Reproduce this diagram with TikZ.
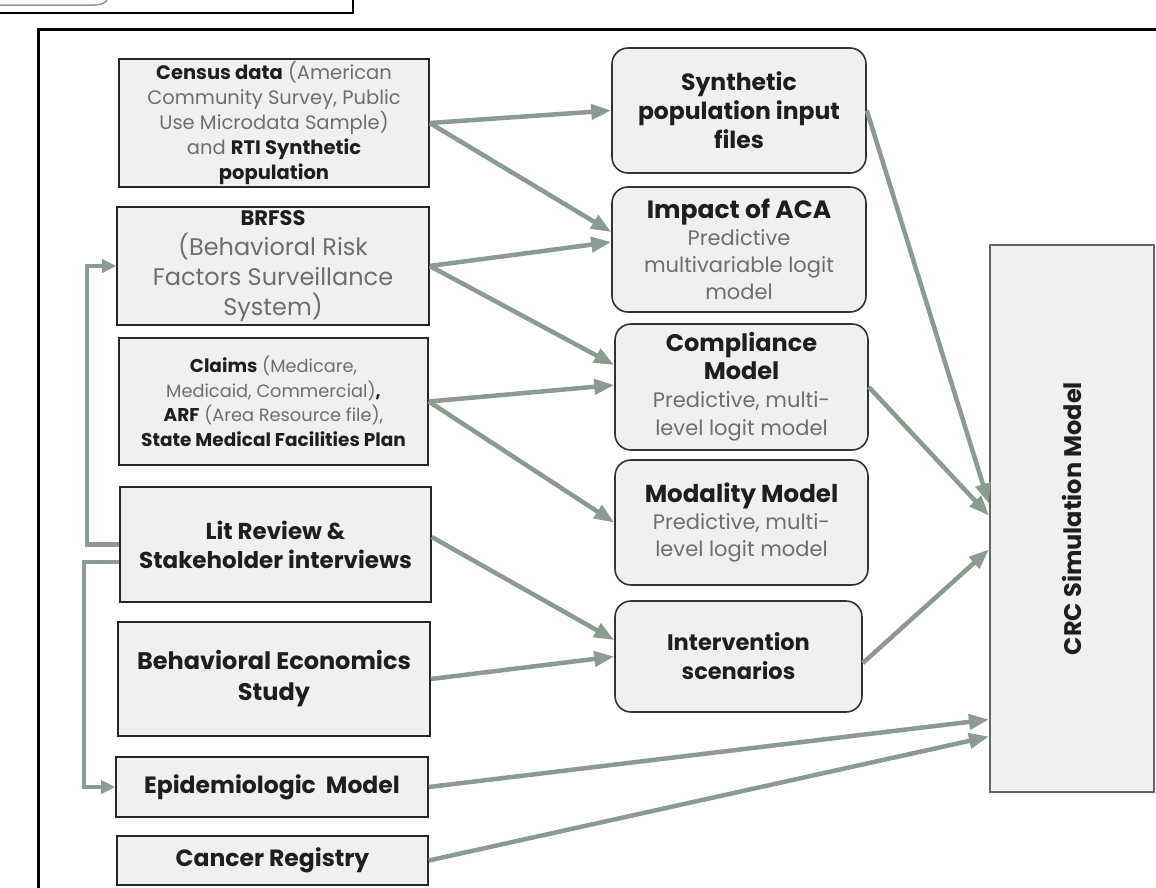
\documentclass[tikz,border=0pt]{standalone}
\usepackage{fontspec}
\setmainfont{Poppins}
\usetikzlibrary{arrows.meta}
\definecolor{arrowc}{HTML}{8B9B8F}
\definecolor{boxfill}{HTML}{F0F0F0}
\definecolor{txtgray}{HTML}{6E6E6E}
\definecolor{txtdark}{HTML}{1E1E1E}
\newcommand\bd[1]{{\color{txtdark}\bfseries #1}}
\newcommand\fs[2]{\fontsize{#1}{#2}\selectfont}
\begin{document}
\begin{tikzpicture}[x=1pt,y=-1pt,
 srcbox/.style={draw=black!85, line width=1.6pt, fill=boxfill, inner sep=0pt, align=center, text=txtgray},
 midbox/.style={srcbox, rounded corners=16pt, draw=black!80},
 crcbox/.style={draw=black!60, line width=2.2pt, fill=boxfill, inner sep=0pt, text=txtdark},
 conn/.style={draw=arrowc, line width=4.5pt, -{Triangle[length=20pt,width=15pt]}},
 elbow/.style={draw=arrowc, line width=4.5pt, -{Triangle[length=14pt,width=13pt]}},
]
\useasboundingbox (0,0) rectangle (1156,887);
% frames
\draw[line width=3pt] (38,892) -- (38,29) -- (1160,29);
\draw[line width=2.2pt] (-2,13) -- (353,13) -- (353,-2);
\draw[black!40, line width=1.5pt] (-2,5) -- (95,5) .. controls (102,5) and (107,2) .. (108,-2);

% source boxes
\node[srcbox, minimum width=310pt, minimum height=128pt, font=\fs{19.5}{25}] (census) at (274,123)
 {\bd{Census data} (American\\Community Survey, Public\\Use Microdata Sample)\\and \bd{RTI Synthetic}\\\bd{population}};
\node[srcbox, minimum width=312pt, minimum height=118pt, font=\fs{24}{30}] (brfss) at (273,266)
 {\bd{\fs{21}{30}BRFSS}\\(Behavioral Risk\\Factors Surveillance\\System)};
\node[srcbox, minimum width=309pt, minimum height=127pt, font=\fs{17.8}{24.5}] (claims) at (273.5,401.5)
 {\bd{\fs{18.5}{24.5}Claims} (Medicare,\\Medicaid, Commercial)\bd{,}\\\bd{\fs{18.5}{24.5}ARF} (Area Resource file),\\\bd{\fs{18.5}{24.5}State Medical Facilities Plan}};
\node[srcbox, minimum width=311pt, minimum height=115pt, font=\fs{23}{29}\bfseries, text=txtdark] (lit) at (275.5,544.5)
 {Lit Review \&\\Stakeholder interviews};
\node[srcbox, minimum width=312pt, minimum height=114pt, font=\fs{24}{31}\bfseries, text=txtdark] (behav) at (274,679)
 {Behavioral Economics\\Study};
\node[srcbox, minimum width=312pt, minimum height=60pt, font=\fs{23.5}{29}\bfseries, text=txtdark] (epi) at (272,787)
 {Epidemiologic\hspace{10pt}Model};
\node[srcbox, minimum width=311pt, minimum height=49pt, font=\fs{23.5}{29}\bfseries, text=txtdark] (cancer) at (272.5,860.5)
 {Cancer Registry};

% middle boxes
\node[midbox, minimum width=254pt, minimum height=125pt, font=\fs{23.5}{29}\bfseries, text=txtdark] (synth) at (739,110.5)
 {Synthetic\\population input\\files};
\node[midbox, minimum width=254pt, minimum height=125pt, font=\fs{21}{27}] (impact) at (739,249.5)
 {\bd{\fs{25}{28}Impact of ACA}\\Predictive\\multivariable logit\\model};
\node[midbox, minimum width=253pt, minimum height=126pt, font=\fs{21}{28}] (compl) at (741.5,387)
 {\bd{\fs{24}{30}Compliance}\\\bd{\fs{24}{30}Model}\\Predictive, multi-\\level logit model};
\node[midbox, minimum width=253pt, minimum height=125pt, font=\fs{21}{27}] (modal) at (741.5,522.5)
 {\bd{\fs{24.5}{30}Modality Model}\\Predictive, multi-\\level logit model};
\node[midbox, minimum width=247pt, minimum height=111pt, font=\fs{22.5}{29}\bfseries, text=txtdark] (interv) at (738.5,656.5)
 {Intervention\\scenarios};

% CRC box
\node[crcbox, minimum width=164pt, minimum height=547pt, font=\fs{24}{30}\bfseries] (crc) at (1072,518.5)
 {\rotatebox{90}{CRC Simulation Model}};

% connectors
\draw[conn] (census.east) -- (synth.west);
\draw[conn] (census.east) -- ([yshift=17.5pt]impact.west);
\draw[conn] (brfss.east) -- ([yshift=7.5pt]impact.west);
\draw[conn] (brfss.east) -- ([yshift=22pt]compl.west);
\draw[conn] (claims.east) -- ([yshift=2pt]compl.west);
\draw[conn] (claims.east) -- (modal.west);
\draw[conn] ([yshift=7.5pt]lit.east) -- ([yshift=16.5pt]interv.west);
\draw[conn] (behav.east) -- (interv.west);
\draw[conn] (synth.east) -- ([yshift=15pt]crc.west);
\draw[conn] (compl.east) -- ([yshift=3pt]crc.west);
\draw[conn] ([yshift=-6.5pt]interv.east) -- ([yshift=-31pt]crc.west);
\draw[conn] (epi.east) -- ([yshift=-201pt]crc.west);
\draw[conn] (cancer.east) -- ([yshift=-218pt]crc.west);
\draw[elbow] (lit.west) -- ++(-32,0) |- (brfss.west);
\draw[elbow] ([yshift=-17.5pt]lit.west) -- ++(-35,0) |- (epi.west);
\end{tikzpicture}
\end{document}
